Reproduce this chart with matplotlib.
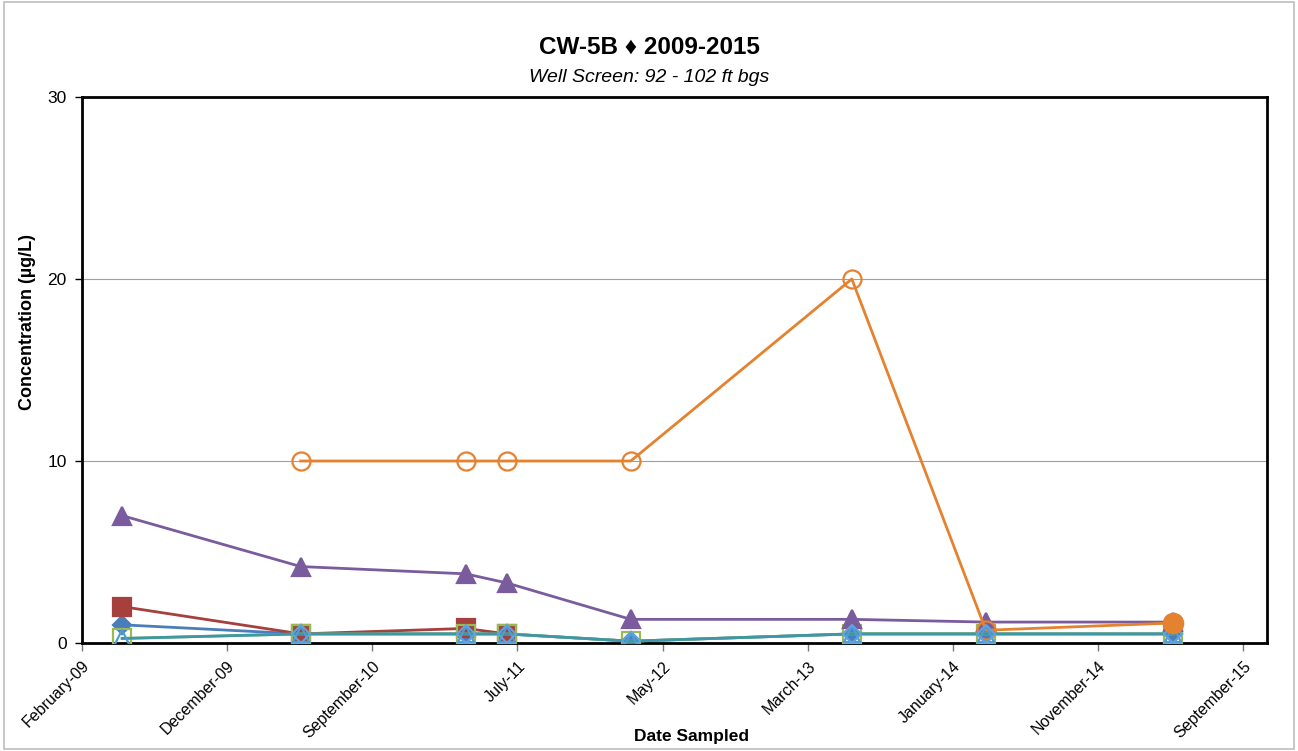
import matplotlib
matplotlib.use("Agg")
import matplotlib.pyplot as plt
import matplotlib.dates as mdates
import numpy as np
import datetime as dt

plt.rcParams['font.family'] = ['Liberation Sans', 'DejaVu Sans']

# ---- data ----
dates = ["2009-04-29", "2010-05-03", "2011-04-09", "2011-07-03",
         "2012-03-15", "2013-06-15", "2014-03-19", "2015-04-10"]
blue_diamond = [1.0, 0.5, 0.5, 0.5, 0.1, 0.5, 0.5, 0.5]
red_square = [2.0, 0.5, 0.8, 0.5, None, None, None, None]
green_square = [0.25, 0.5, 0.5, 0.5, 0.1, 0.5, 0.5, 0.5]
purple_triangle = [7.0, 4.2, 3.8, 3.3, 1.3, 1.3, 1.15, 1.15]
teal_triangle = [0.25, 0.5, 0.5, 0.5, 0.1, 0.5, 0.5, 0.5]
orange_circle = [None, 10, 10, 10, 10, 20, 0.7, 1.1]
orange_filled = [None, None, None, None, None, None, None, 1.1]

tick_start = "2009-02-05"
tick_step_days = 300
n_ticks = 9
x_end = "2015-10-21"
y_ticks = [0, 10, 20, 30]

title = "CW-5B \u2666 2009-2015"
subtitle = "Well Screen: 92 - 102 ft bgs"
xlabel = "Date Sampled"
ylabel = "Concentration (\u00b5g/L)"

# ---- plot ----
d = [dt.datetime.strptime(s, "%Y-%m-%d") for s in dates]
x = mdates.date2num(d)

def arr(v):
    return np.array([np.nan if a is None else a for a in v], dtype=float)

fig = plt.figure(figsize=(12.98, 7.51), dpi=100)
ax = fig.add_axes([82/1298, 1-643/751, (1267-82)/1298, (643-97)/751])

def draw(vals, col, mk, fc, mec, ms, z, lw=2, ls="-"):
    y = arr(vals)
    m = ~np.isnan(y)
    ax.plot(x[m], y[m], color=col, lw=lw, ls=ls, marker=mk, ms=ms, mfc=fc,
            mec=mec, mew=1.6, zorder=z)

draw(blue_diamond, "#4A7EBB", "D", "#4A7EBB", "#4A7EBB", 9, 3)
draw(red_square, "#A5403D", "s", "#A5403D", "#A5403D", 13, 3)
draw(green_square, "#98B954", "s", "none", "#98B954", 13, 3)
draw(purple_triangle, "#7A5C9E", "^", "#7A5C9E", "#7A5C9E", 13, 3)
draw(teal_triangle, "#3C97A6", "^", "none", "#4F9CD6", 12, 4)
draw(orange_circle, "#E5822F", "o", "none", "#E5822F", 13, 3)
# hollow blue diamonds visible inside the squares
yb = arr(blue_diamond)
ax.plot(x[1:], yb[1:], ls="none", marker="D", ms=9, mfc="none", mec="#5FA3E0",
        mew=1.5, zorder=4)
draw(orange_filled, "#E5822F", "o", "#E5822F", "#E5822F", 14, 5)

start = mdates.date2num(dt.datetime.strptime(tick_start, "%Y-%m-%d"))
ticks = [start + i*tick_step_days for i in range(n_ticks)]
ax.set_xlim(start, mdates.date2num(dt.datetime.strptime(x_end, "%Y-%m-%d")))
ax.set_xticks(ticks)
ax.set_xticklabels([mdates.num2date(t).strftime("%B-%y") for t in ticks],
                   rotation=45, ha="right", rotation_mode="anchor", fontsize=11.5)
ax.set_ylim(0, 30)
ax.set_yticks(y_ticks)
ax.tick_params(axis="y", labelsize=12.5, length=5, direction="out", width=1, pad=6)
ax.tick_params(axis="x", length=6, direction="out", width=1, color="#777777", pad=5)
ax.grid(axis="y", color="#A0A0A0", lw=0.8)
ax.set_axisbelow(True)
for s in ax.spines.values():
    s.set_linewidth(2)
    s.set_color("black")

fig.text(0.5, 1-47/751, title, ha="center", va="center", fontsize=17.5,
         fontweight="bold")
fig.text(0.5, 1-78/751, subtitle, ha="center", va="center", fontsize=14,
         style="italic")
fig.text(28/1298, 1-322/751, ylabel, rotation=90, ha="center", va="center",
         fontsize=13, fontweight="bold")
fig.text(691/1298, 1-736/751, xlabel, ha="center", va="center", fontsize=12.5,
         fontweight="bold")

# outer chart border
fig.patches.append(plt.Rectangle((0.003, 0.003), 0.994, 0.994, transform=fig.transFigure,
                                 fill=False, ec="#BDBDBD", lw=1.2))

fig.savefig("out.png", dpi=100, facecolor="white")
